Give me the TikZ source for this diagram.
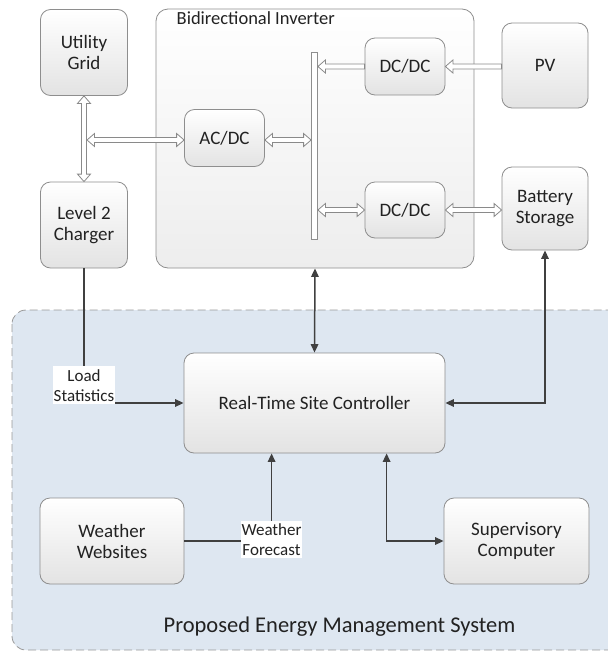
\documentclass[tikz,border=0pt]{standalone}
\usepackage{fontspec}
\setmainfont{Carlito}
\usetikzlibrary{arrows.meta,calc}
\definecolor{regionblue}{HTML}{DEE7F1}
\definecolor{boxline}{HTML}{8E8E8E}
\definecolor{arrline}{HTML}{8A8A8A}
\definecolor{darkarr}{HTML}{404040}
\definecolor{txt}{HTML}{222222}
\tikzset{
  blk/.style={draw=boxline, line width=0.8pt, rounded corners=10pt, top color=white, bottom color=black!11,
    align=center, text=txt, font=\fontsize{19}{21}\selectfont, inner sep=0pt},
  invbox/.style={draw=boxline, line width=0.8pt, rounded corners=12pt, top color=white, bottom color=black!7, inner sep=0pt},
  region/.style={draw=black!40, line width=0.8pt, dash pattern=on 8pt off 4pt, rounded corners=14pt, fill=regionblue},
  busbar/.style={draw=boxline, line width=0.8pt, fill=white, inner sep=0pt},
  hollow/.style={draw=arrline, line width=0.8pt, fill=white, line join=miter},
  darr/.style={draw=darkarr, line width=1.5pt, -{Triangle[length=8.5pt,width=7.5pt]}},
  dbarr/.style={draw=darkarr, line width=1.5pt, {Triangle[length=8.5pt,width=7.5pt]}-{Triangle[length=8.5pt,width=7.5pt]}},
  lbl/.style={fill=white, align=center, text=txt, font=\fontsize{17}{20}\selectfont, inner xsep=1pt, inner ysep=3pt},
}
\def\hs{2.5pt}\def\hh{6.5pt}\def\hl{7.5pt}
% horizontal double hollow arrow, #1 left point, #2 right point (same y)
\newcommand\hdbl[2]{\draw[hollow] let \p1=(#1), \p2=(#2) in
  (\x1,\y1) -- (\x1+\hl,\y1+\hh) -- (\x1+\hl,\y1+\hs) -- (\x2-\hl,\y1+\hs) -- (\x2-\hl,\y1+\hh) -- (\x2,\y1)
  -- (\x2-\hl,\y1-\hh) -- (\x2-\hl,\y1-\hs) -- (\x1+\hl,\y1-\hs) -- (\x1+\hl,\y1-\hh) -- cycle;}
% horizontal single hollow arrow pointing left: from #1 (right) to #2 (left)
\newcommand\hleft[2]{\draw[hollow] let \p1=(#1), \p2=(#2) in
  (\x1,\y1+\hs) -- (\x2+\hl,\y1+\hs) -- (\x2+\hl,\y1+\hh) -- (\x2,\y1) -- (\x2+\hl,\y1-\hh)
  -- (\x2+\hl,\y1-\hs) -- (\x1,\y1-\hs) -- cycle;}
% vertical double hollow arrow, #1 top, #2 bottom
\newcommand\vdbl[2]{\draw[hollow] let \p1=(#1), \p2=(#2) in
  (\x1,\y1) -- (\x1+\hh,\y1-\hl) -- (\x1+\hs,\y1-\hl) -- (\x1+\hs,\y2+\hl) -- (\x1+\hh,\y2+\hl) -- (\x1,\y2)
  -- (\x1-\hh,\y2+\hl) -- (\x1-\hs,\y2+\hl) -- (\x1-\hs,\y1-\hl) -- (\x1-\hh,\y1-\hl) -- cycle;}
\begin{document}
\begin{tikzpicture}[x=1pt,y=-1pt]
\useasboundingbox (0,0) rectangle (608,651);
% region
\path[region] (12,310) rectangle (625,650);
\node[text=txt, font=\fontsize{22.5}{26}\selectfont] (ems) at (339.5,627) {Proposed Energy Management System};
% inverter
\node[invbox, minimum width=318pt, minimum height=259pt] (inv) at (315,138.5) {};
\node[anchor=north west, text=txt, font=\fontsize{18.5}{21}\selectfont, inner sep=0pt] (invt) at (176.5,11.5) {Bidirectional Inverter};
\node[busbar, minimum width=6pt, minimum height=187pt] (bus) at (314.5,145.5) {};
% blocks
\node[blk, minimum width=87pt, minimum height=86pt] (grid) at (84,52.5) {Utility\\Grid};
\node[blk, minimum width=87pt, minimum height=86pt] (charger) at (84,225) {Level 2\\Charger};
\node[blk, minimum width=80pt, minimum height=57pt] (acdc) at (224.5,138) {AC/DC};
\node[blk, minimum width=80pt, minimum height=57pt] (dc1) at (405,66.5) {DC/DC};
\node[blk, minimum width=80pt, minimum height=56pt] (dc2) at (405,210) {DC/DC};
\node[blk, minimum width=86pt, minimum height=85pt] (pv) at (545,65.5) {PV};
\node[blk, minimum width=86pt, minimum height=83pt] (batt) at (545,208.5) {Battery\\Storage};
\node[blk, minimum width=261pt, minimum height=100pt] (rtsc) at (314.5,403) {Real-Time Site Controller};
\node[blk, minimum width=144pt, minimum height=86pt] (ww) at (112,541) {Weather\\Websites};
\node[blk, minimum width=145pt, minimum height=86pt] (sup) at (516.5,541) {Supervisory\\Computer};
% hollow arrows
\coordinate (gj) at ($(grid.south |- acdc.west)+(3,2)$);
\vdbl{grid.south}{charger.north}
\hdbl{gj}{$(acdc.west)+(0,2)$}
\hdbl{$(acdc.east)+(0,2)$}{$(bus.west |- acdc.east)+(0,2)$}
\hleft{dc1.west}{bus.east |- dc1.west}
\hleft{pv.west |- dc1.east}{dc1.east}
\hdbl{bus.east |- dc2.west}{dc2.west}
\hdbl{dc2.east}{batt.west |- dc2.east}
% dark arrows
\coordinate (wtop) at ($(rtsc.south west)+(88,0)$);
\coordinate (stop) at ($(rtsc.south west)+(203,0)$);
\draw[darr] (charger.south) |- (rtsc.west);
\node[lbl, anchor=south] (loadlbl) at (84,404.5) {Load\\Statistics};
\draw[dbarr] (inv.south) -- (rtsc.north);
\draw[dbarr] (batt.south) |- (rtsc.east);
\draw[darr] (ww.east) -| (wtop);
\node[lbl] (wflbl) at (271.5,539.5) {Weather\\Forecast};
\draw[dbarr] (stop) |- (sup.west);
\end{tikzpicture}
\end{document}
